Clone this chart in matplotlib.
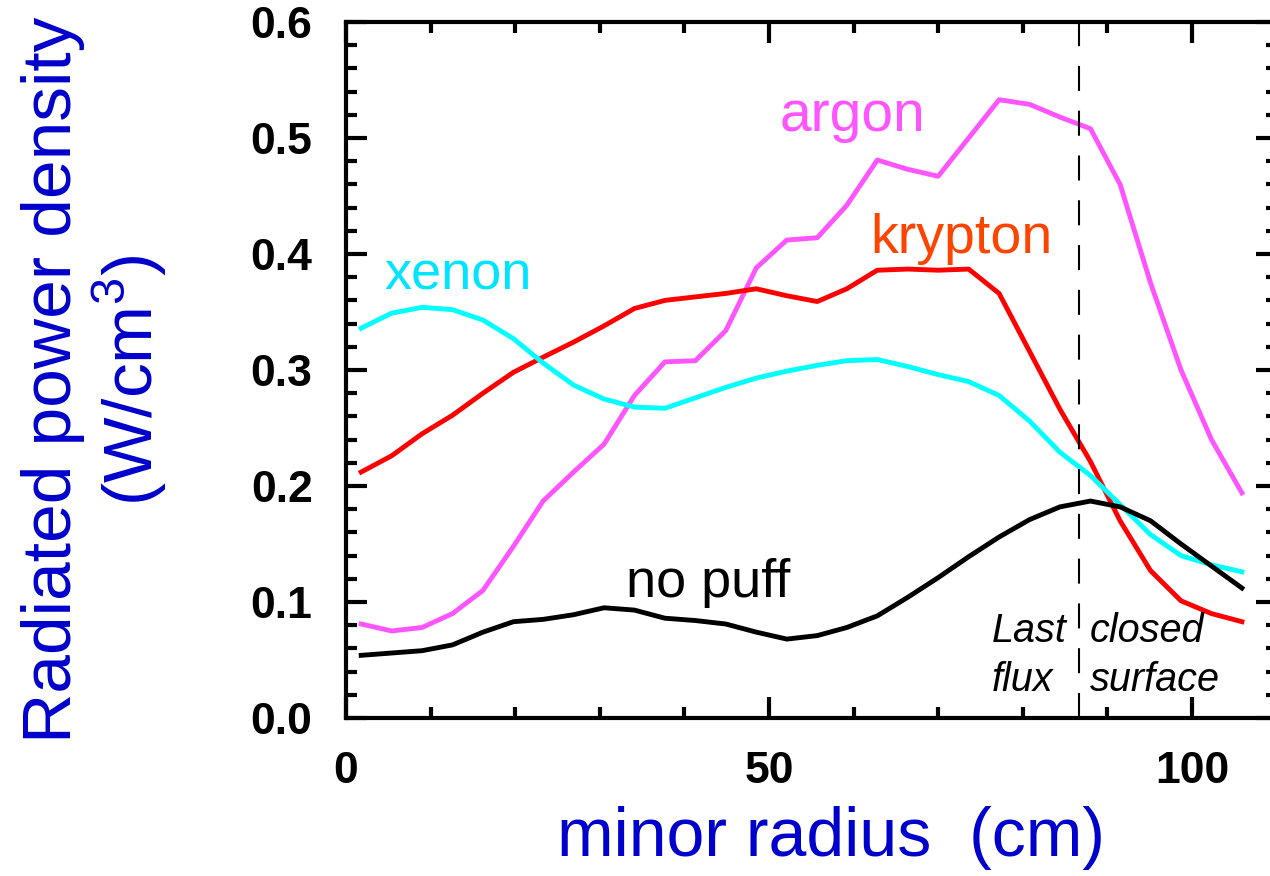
import numpy as np
import matplotlib
matplotlib.use("Agg")
import matplotlib.pyplot as plt
from matplotlib.ticker import MultipleLocator

plt.rcParams['font.family'] = ['Liberation Sans', 'DejaVu Sans']
plt.rcParams['mathtext.fontset'] = 'custom'
plt.rcParams['mathtext.rm'] = 'Liberation Sans'

# Radial grid of the profiles (cm)
radius = [1.8, 5.4, 9.0, 12.6, 16.2, 19.8, 23.3, 26.9, 30.5, 34.1,
          37.7, 41.3, 44.9, 48.5, 52.1, 55.7, 59.2, 62.8, 66.4, 70.0,
          73.6, 77.2, 80.8, 84.4, 88.0, 91.5, 95.1, 98.7, 102.3, 105.9]

# Radiated power density profiles (W/cm^3)
argon = [0.081, 0.075, 0.078, 0.090, 0.110, 0.148, 0.187, 0.212, 0.236, 0.278,
         0.307, 0.308, 0.334, 0.388, 0.412, 0.414, 0.442, 0.481, 0.473, 0.467,
         0.500, 0.533, 0.529, 0.518, 0.508, 0.460, 0.375, 0.300, 0.240, 0.194]
krypton = [0.212, 0.226, 0.245, 0.261, 0.280, 0.298, 0.311, 0.324, 0.338, 0.353,
           0.360, 0.363, 0.366, 0.370, 0.364, 0.359, 0.370, 0.386, 0.387, 0.386,
           0.387, 0.366, 0.316, 0.266, 0.221, 0.170, 0.127, 0.101, 0.090, 0.083]
xenon = [0.336, 0.349, 0.354, 0.352, 0.343, 0.327, 0.306, 0.287, 0.275, 0.268,
         0.267, 0.276, 0.285, 0.293, 0.299, 0.304, 0.308, 0.309, 0.303, 0.296,
         0.290, 0.278, 0.256, 0.229, 0.209, 0.184, 0.158, 0.140, 0.132, 0.126]
no_puff = [0.054, 0.056, 0.058, 0.063, 0.074, 0.083, 0.085, 0.089, 0.095, 0.093,
           0.086, 0.084, 0.081, 0.074, 0.068, 0.071, 0.078, 0.088, 0.104, 0.121,
           0.139, 0.156, 0.171, 0.182, 0.187, 0.182, 0.170, 0.150, 0.131, 0.112]

lcfs_radius = 86.6

fig = plt.figure(figsize=(12.7, 8.76), dpi=100)
# axes run slightly past the right edge of the figure
ax = fig.add_axes([0.2724, 0.1804, 0.7328, 0.7945])

ax.plot(radius, argon, color='#ff55ff', lw=3.5)
ax.plot(radius, krypton, color='#ff0000', lw=3.5)
ax.plot(radius, xenon, color='#00ffff', lw=3.5)
ax.plot(radius, no_puff, color='black', lw=3.5)

ax.axvline(lcfs_radius, color='black', lw=1.5, linestyle=(0, (12, 9.5)))

ax.set_xlim(0, 110)
ax.set_ylim(0, 0.6)
ax.xaxis.set_major_locator(MultipleLocator(50))
ax.xaxis.set_minor_locator(MultipleLocator(10))
ax.yaxis.set_major_locator(MultipleLocator(0.1))
ax.yaxis.set_minor_locator(MultipleLocator(0.02))
ax.yaxis.set_major_formatter(matplotlib.ticker.FormatStrFormatter('%.1f'))

for s in ax.spines.values():
    s.set_linewidth(3)
ax.tick_params(which='both', direction='in', top=True, right=True, width=3)
ax.tick_params(which='major', length=15, pad=24, labelsize=32)
ax.tick_params(which='minor', length=8)
for lab in ax.get_xticklabels() + ax.get_yticklabels():
    lab.set_fontweight('bold')

# curve labels
ax.text(4.6, 0.369, 'xenon', color='#00e5ff', fontsize=39)
ax.text(51.2, 0.506, 'argon', color='#ff55ff', fontsize=41)
ax.text(62.0, 0.401, 'krypton', color='#ff4400', fontsize=40)
ax.text(33.1, 0.104, 'no puff', color='black', fontsize=39)

ax.text(76.3, 0.0233, 'Last\nflux', fontsize=28.5, style='italic',
        ha='left', va='baseline', linespacing=1.35)
ax.text(87.9, 0.0233, 'closed\nsurface', fontsize=28.5, style='italic',
        ha='left', va='baseline', linespacing=1.35)

fig.text(0.075, 0.566, 'Radiated power density\n(W/cm$^3$)', color='#0000cc',
         fontsize=50, rotation=90, ha='center', va='center',
         multialignment='center', linespacing=1.1)
fig.text(0.654, 0.043, 'minor radius  (cm)', color='#0000cc', fontsize=49,
         ha='center', va='center')

fig.savefig('out.png', dpi=100)
